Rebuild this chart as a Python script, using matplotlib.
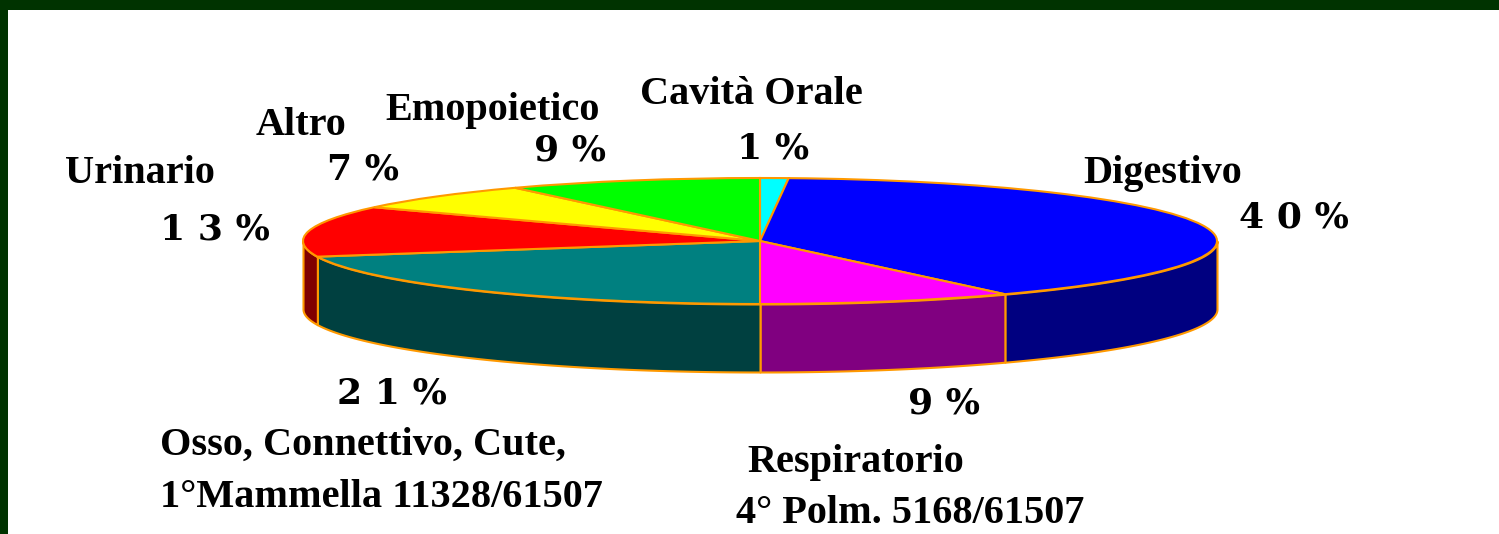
import numpy as np
import matplotlib
matplotlib.use("Agg")
import matplotlib.pyplot as plt

W, H = 1499, 534

# clockwise from 12 o'clock
organs = ['Cavità Orale', 'Digestivo', 'Respiratorio', 'Osso', 'Urinario', 'Altro', 'Emopoietico']
percent = [1, 40, 9, 21, 13, 7, 9]
top_colors = ['#00ffff', '#0000ff', '#ff00ff', '#008080', '#ff0000', '#ffff00', '#00ff00']
side_colors = ['#008080', '#000080', '#800080', '#004040', '#800000', '#808000', '#008000']
pct_labels = ['1%', '40%', '9%', '21%', '13%', '7%', '9%']
edge = '#ff9900'

# pixel geometry of the squashed pie
cx, cy, rx, ry, depth = 760, 241, 457, 63, 68


def px(x, y):
    return x / W, 1 - y / H


fig = plt.figure(figsize=(W / 100, H / 100), dpi=100, facecolor='#003300')

# white page inside the dark green frame
bg = fig.add_axes([8 / W, 0, 1 - 8 / W, 1 - 10 / H])
bg.set_xticks([])
bg.set_yticks([])
for s in bg.spines.values():
    s.set_visible(False)
bg.set_facecolor('white')

# axes where one data unit is rx wide and ry tall
x0, x1 = -1.1, 1.1
y0, y1 = -2.4, 1.1
ax = fig.add_axes([(cx + x0 * rx) / W, 1 - (cy - y0 * ry) / H,
                   (x1 - x0) * rx / W, (y1 - y0) * ry / H])
ax.patch.set_alpha(0)

# side wall, only the front half of the pie shows
edges = np.cumsum([0] + percent) * 3.6
for i in range(len(percent)):
    a = max(edges[i], 90)
    b = min(edges[i + 1], 270)
    if b <= a:
        continue
    t = np.radians(np.linspace(a, b, 60))
    ax.fill_between(np.sin(t), np.cos(t), np.cos(t) - depth / ry,
                    facecolor=side_colors[i], edgecolor=edge, linewidth=1.5)

ax.pie(percent, colors=top_colors, startangle=90, counterclock=False, radius=1,
       wedgeprops={'edgecolor': edge, 'linewidth': 1.5})
ax.set_aspect('auto')
ax.set_xlim(x0, x1)
ax.set_ylim(y0, y1)
ax.axis('off')

# names, left edge and baseline in pixels
name_font = {'family': 'Liberation Serif', 'weight': 'bold', 'size': 29, 'color': 'black',
             'ha': 'left', 'va': 'baseline'}
fig.text(*px(640, 104), organs[0], **name_font)
fig.text(*px(1083, 183), organs[1], **name_font)
fig.text(*px(747, 472), organs[2], **name_font)
fig.text(*px(736, 523), '4° Polm. 5168/61507', **name_font)
fig.text(*px(160, 455), 'Osso, Connettivo, Cute,', **name_font)
fig.text(*px(160, 507), '1°Mammella 11328/61507', **name_font)
fig.text(*px(65, 183), organs[4], **name_font)
fig.text(*px(256, 135), organs[5], **name_font)
fig.text(*px(385, 120), organs[6], **name_font)

# percentages are stretched wide in the original
pct_font = {'family': 'DejaVu Serif', 'weight': 'bold', 'size': 26, 'color': 'black',
            'ha': 'center', 'va': 'baseline'}
pct_pos = [(773, 158), (1294, 228), (944, 414), (392, 403), (215, 240), (363, 180), (570, 160)]
for (x, y), lab in zip(pct_pos, pct_labels):
    fig.text(*px(x, y), ' '.join(lab), **pct_font)

fig.savefig('out.png', dpi=100, facecolor=fig.get_facecolor())
